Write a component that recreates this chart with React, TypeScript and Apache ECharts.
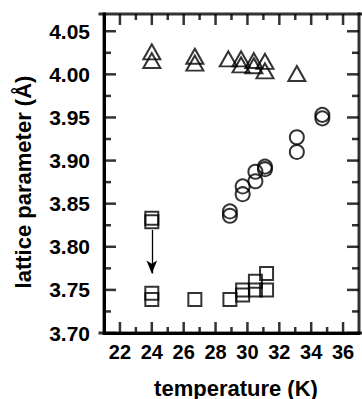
import React, { useEffect, useRef } from "react";
import * as echarts from "echarts";

// tick values
const xMajorTicks = [22, 24, 26, 28, 30, 32, 34, 36];
const xMinorTicks = [23, 25, 27, 29, 31, 33, 35];
const yMajorTicks = [3.7, 3.75, 3.8, 3.85, 3.9, 3.95, 4.0, 4.05];
const yMinorTicks = [3.725, 3.775, 3.825, 3.875, 3.925, 3.975, 4.025];

// triangles
const triT = [24, 24, 26.7, 26.7, 28.8, 29.6, 29.6, 30.4, 30.4, 31.1, 31.1, 33.1];
const triV = [4.026, 4.016, 4.021, 4.013, 4.018, 4.018, 4.011, 4.016, 4.010, 4.015, 4.004, 4.001];

// circles
const cirT = [28.9, 28.9, 29.7, 29.7, 30.5, 30.5, 31.1, 31.1, 33.1, 33.1, 34.7, 34.7];
const cirV = [3.841, 3.836, 3.870, 3.861, 3.887, 3.876, 3.893, 3.890, 3.927, 3.910, 3.953, 3.949];

// squares
const sqT = [24, 24, 24, 24, 26.7, 28.9, 29.7, 29.7, 30.5, 30.5, 31.2, 31.2];
const sqV = [3.833, 3.829, 3.746, 3.739, 3.739, 3.739, 3.750, 3.744, 3.760, 3.750, 3.769, 3.750];

// arrow
const arrowT = 24;
const arrowFrom = 3.8195;
const arrowTo = 3.769;

// axis extents
const X_MIN = 21;
const X_MAX = 37;
const Y_MIN = 3.7;
const Y_MAX = 4.07;

const FONT = "'Liberation Sans', Arial, Helvetica, sans-serif";

export default function App() {
  const ref = useRef<HTMLDivElement>(null);
  useEffect(() => {
    if (!ref.current) return;
    const chart = echarts.init(ref.current, undefined, { renderer: "svg" });
    const zip = (a: number[], b: number[]) => a.map((v, i) => [v, b[i]]);
    const sym = {
      color: "rgba(0,0,0,0)",
      borderColor: "#000",
      borderWidth: 2,
    };
    const xMid = (X_MIN + X_MAX) / 2;
    const yMid = (Y_MIN + Y_MAX) / 2;

    // frame and ticks drawn as filled black bars (scatter rect symbols)
    const marks: any[] = [];
    const add = (value: number[], size: number[], offset: number[]) =>
      marks.push({ value, symbolSize: size, symbolOffset: offset });
    add([xMid, Y_MIN], [266, 3], [0, 0]);
    add([xMid, Y_MAX], [266, 3], [0, 0]);
    add([X_MIN, yMid], [3, 322], [0, 0]);
    add([X_MAX, yMid], [3, 322], [0, 0]);
    xMajorTicks.forEach((v) => {
      add([v, Y_MIN], [2.5, 11], [0, -5.5]);
      add([v, Y_MAX], [2.5, 11], [0, 5.5]);
    });
    xMinorTicks.forEach((v) => {
      add([v, Y_MIN], [2.5, 6], [0, -3]);
      add([v, Y_MAX], [2.5, 6], [0, 3]);
    });
    yMajorTicks.forEach((v) => {
      add([X_MIN, v], [12, 2.5], [6, 0]);
      add([X_MAX, v], [12, 2.5], [-6, 0]);
    });
    yMinorTicks.forEach((v) => {
      add([X_MIN, v], [7, 2.5], [3.5, 0]);
      add([X_MAX, v], [7, 2.5], [-3.5, 0]);
    });

    chart.setOption({
      animation: false,
      grid: {
        left: 104,
        top: 14,
        right: -4,
        bottom: 66,
      },
      xAxis: {
        type: "value",
        min: X_MIN,
        max: X_MAX,
        interval: 1,
        axisLine: { show: true, onZero: false, lineStyle: { color: "#000", width: 3 } },
        axisTick: { show: false },
        splitLine: { show: false },
        axisLabel: {
          show: true,
          formatter: (v: number) => (xMajorTicks.indexOf(v) >= 0 ? String(v) : ""),
          color: "#000",
          fontSize: 20,
          fontWeight: "bold",
          fontFamily: FONT,
          margin: 9,
        },
      },
      yAxis: {
        type: "value",
        min: Y_MIN,
        max: Y_MAX,
        interval: 0.05,
        axisLine: { show: true, onZero: false, lineStyle: { color: "#000", width: 3 } },
        axisTick: { show: false },
        splitLine: { show: false },
        axisLabel: {
          show: true,
          showMaxLabel: false,
          formatter: (v: number) => (v < 4.06 ? v.toFixed(2) : ""),
          color: "#000",
          fontSize: 21,
          fontWeight: "bold",
          fontFamily: FONT,
          margin: 14,
        },
      },
      graphic: [
        {
          type: "text",
          x: 23,
          y: 182,
          rotation: Math.PI / 2,
          style: {
            text: "lattice parameter (Å)",
            fontSize: 22,
            fontWeight: "bold",
            fontFamily: FONT,
            fill: "#000",
            align: "center",
            verticalAlign: "middle",
          },
        },
        {
          type: "text",
          x: 236,
          y: 388,
          style: {
            text: "temperature (K)",
            fontSize: 22,
            fontWeight: "bold",
            fontFamily: FONT,
            fill: "#000",
            align: "center",
            verticalAlign: "middle",
          },
        },
      ],
      series: [
        {
          type: "scatter",
          symbol: "rect",
          silent: true,
          clip: false,
          itemStyle: { color: "#000", borderWidth: 0 },
          data: marks,
        },
        {
          type: "scatter",
          symbol: "triangle",
          symbolSize: [17, 15],
          itemStyle: sym,
          silent: true,
          clip: false,
          data: zip(triT, triV),
        },
        {
          type: "scatter",
          symbol: "circle",
          symbolSize: 14,
          itemStyle: sym,
          silent: true,
          clip: false,
          data: zip(cirT, cirV),
        },
        {
          type: "scatter",
          symbol: "rect",
          symbolSize: 13,
          itemStyle: sym,
          silent: true,
          clip: false,
          data: zip(sqT, sqV),
          markLine: {
            silent: true,
            symbol: ["none", "arrow"],
            symbolSize: [8, 13],
            label: { show: false },
            emphasis: { disabled: true },
            lineStyle: { color: "#000", width: 1.3, type: "solid" },
            data: [[{ coord: [arrowT, arrowFrom] }, { coord: [arrowT, arrowTo] }]],
          },
        },
      ],
    });
    return () => chart.dispose();
  }, []);
  return <div ref={ref} style={{ width: 362, height: 399, position: "absolute", left: 0, top: 0 }} />;
}
